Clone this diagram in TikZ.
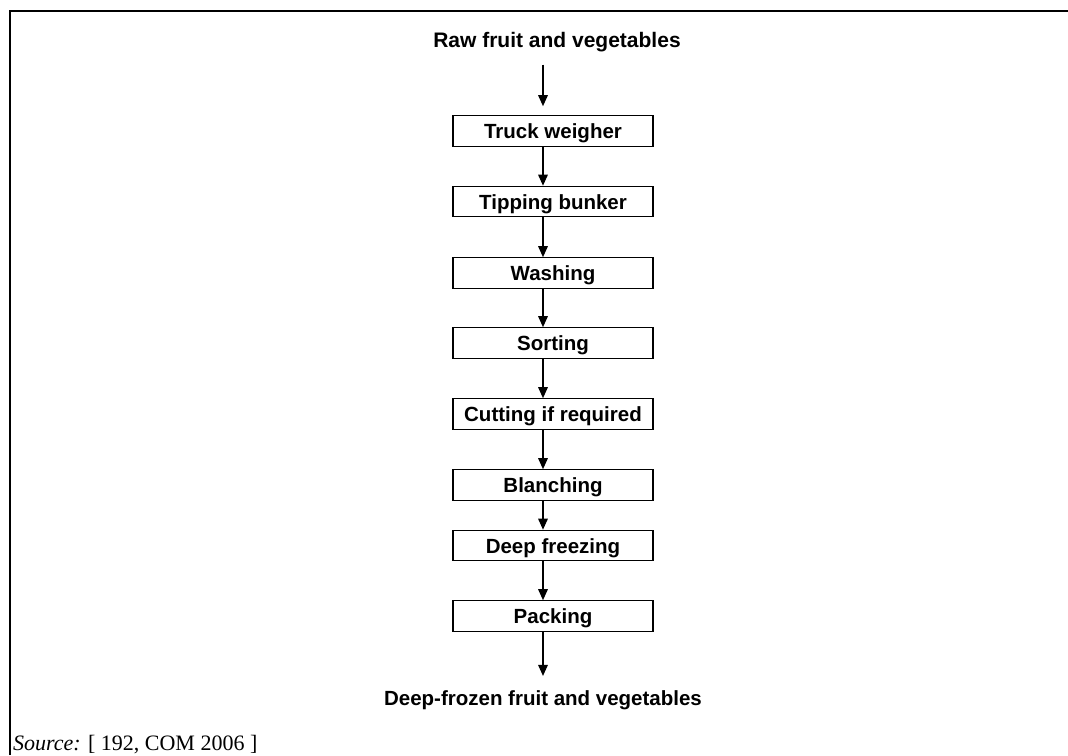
\documentclass[tikz,border=0pt]{standalone}
\usepackage{fontspec}
\setmainfont{Liberation Serif}
\newfontfamily\arialfont{Liberation Sans}
\usetikzlibrary{arrows.meta}
\begin{document}
\begin{tikzpicture}[x=1pt,y=-1pt,
  stepbox/.style={draw=black,line width=1.1pt,minimum width=200pt,minimum height=30.5pt,inner sep=0pt,
    font=\arialfont\bfseries\fontsize{20.5}{22}\selectfont,text height=15pt,text depth=0pt},
  endlabel/.style={inner sep=0pt,anchor=base,font=\arialfont\bfseries\fontsize{20.5}{22}\selectfont},
  flow/.style={line width=1.5pt,-{Triangle[length=11pt,width=9.5pt]}},
  frameline/.style={line width=2.4pt}]
\useasboundingbox (0,0) rectangle (1068,755);
\fill[white] (0,0) rectangle (1068,755);
\coordinate (ftl) at (10,11);
\coordinate (ftr) at (1068,11);
\coordinate (fbl) at (10,755);
\draw[frameline] (fbl) -- (ftl) -- (ftr);
\node[endlabel,font=\arialfont\bfseries\fontsize{21}{22}\selectfont] (raw) at (557,47) {Raw fruit and vegetables};
\node[stepbox] (s1) at (553,131) {Truck weigher};
\node[stepbox] (s2) at (553,201.5) {Tipping bunker};
\node[stepbox] (s3) at (553,273) {Washing};
\node[stepbox] (s4) at (553,343) {Sorting};
\node[stepbox] (s5) at (553,414) {Cutting if required};
\node[stepbox] (s6) at (553,485) {Blanching};
\node[stepbox] (s7) at (553,545.5) {Deep freezing};
\node[stepbox] (s8) at (553,616) {Packing};
\node[endlabel] (out) at (543,705) {Deep-frozen fruit and vegetables};
\node[inner sep=0pt,anchor=base west,font=\fontsize{22}{24}\selectfont] (src) at (13,750) {\textit{Source:} [ 192, COM 2006 ]};
\draw[flow,shorten <=13pt,shorten >=9pt] (raw.south -| out) -- (s1.north -| out);
\foreach \a/\b in {s1/s2,s2/s3,s3/s4,s4/s5,s5/s6,s6/s7,s7/s8}
  \draw[flow] (\a.south -| out) -- (\b.north -| out);
\draw[flow,shorten >=14pt] (s8.south -| out) -- (out.north);
\end{tikzpicture}
\end{document}
